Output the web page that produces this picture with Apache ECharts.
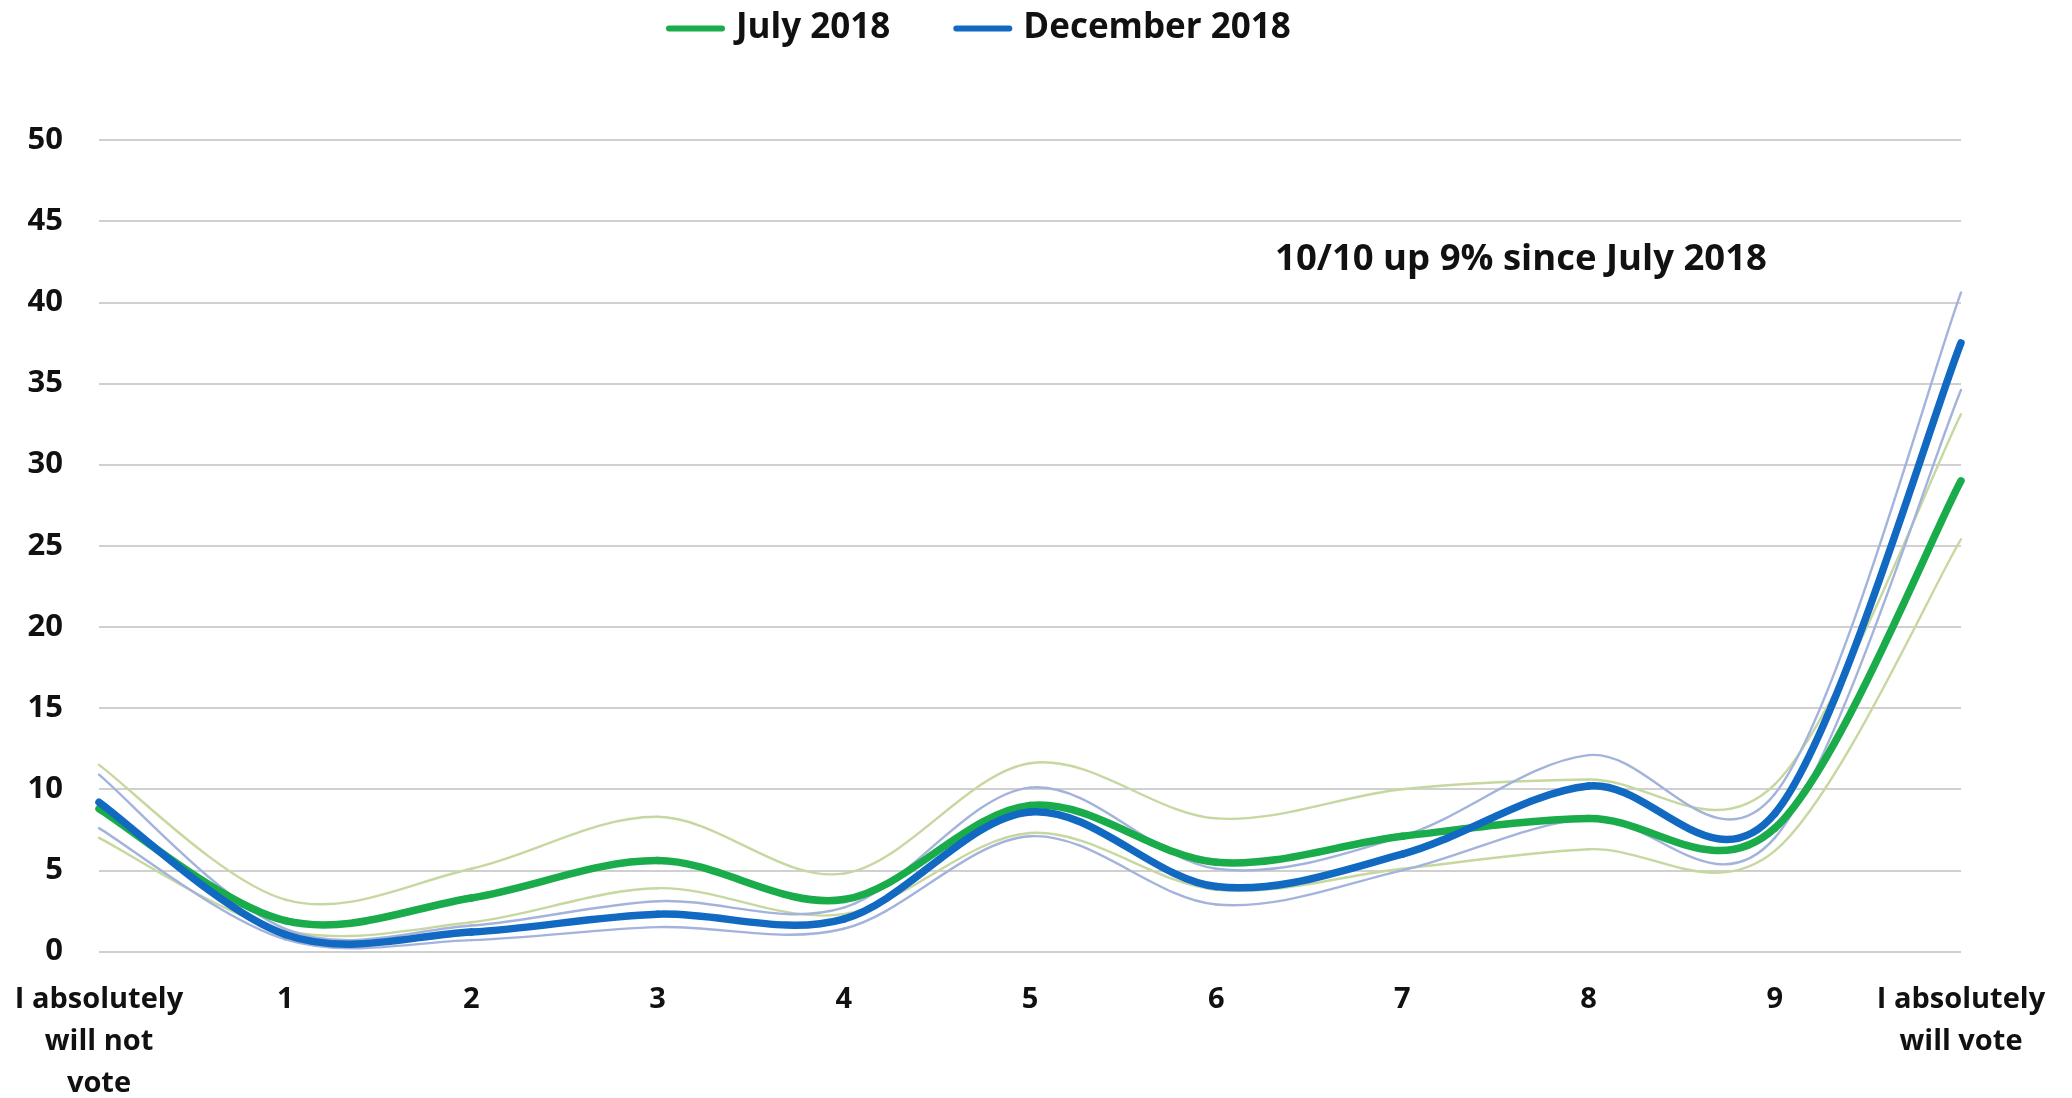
<!DOCTYPE html>
<html>
<head>
<meta charset="utf-8">
<script src="https://cdn.jsdelivr.net/npm/echarts@6/dist/echarts.min.js"></script>
<style>
html,body{margin:0;padding:0;background:#fff;}
#chart{width:2072px;height:1098px;}
</style>
</head>
<body>
<div id="chart"></div>
<script>
// ---- data ----
const categories = ['I absolutely\nwill not\nvote', '1', '2', '3', '4', '5', '6', '7', '8', '9', 'I absolutely\nwill vote'];
const yMin = 0;
const yMax = 50;
const yStep = 5;

const july2018      = [8.8, 1.9, 3.3, 5.6, 3.2, 9.0, 5.5, 7.1, 8.2, 7.6, 29.0];
const july2018Upper = [11.5, 3.2, 5.1, 8.3, 4.8, 11.6, 8.2, 10.0, 10.6, 10.3, 33.1];
const july2018Lower = [7.0, 1.3, 1.8, 3.9, 2.3, 7.3, 3.8, 5.1, 6.3, 6.2, 25.4];

const dec2018       = [9.2, 1.05, 1.2, 2.3, 2.0, 8.6, 4.0, 6.0, 10.2, 8.5, 37.5];
const dec2018Upper  = [10.9, 1.4, 1.6, 3.1, 2.7, 10.1, 5.1, 7.1, 12.1, 9.7, 40.6];
const dec2018Lower  = [7.6, 0.75, 0.7, 1.5, 1.4, 7.1, 2.9, 5.0, 8.2, 7.0, 34.6];

const legendNames = ['July 2018', 'December 2018'];
const annotationText = '10/10 up 9% since July 2018';

// ---- styling ----
const FONT = 'Open Sans';
const GREEN = '#1aab4b';
const BLUE = '#1169c1';
const LIGHT_GREEN = '#c6d79f';
const LIGHT_BLUE = '#a3b3dc';

// Smooth line drawn segment by segment (cardinal/Catmull-Rom Bezier) through axis coordinates
function smoothSeries(name, values, color, width, z) {
  const n = values.length;
  return {
    name: name,
    type: 'custom',
    coordinateSystem: 'cartesian2d',
    z: z,
    silent: true,
    clip: false,
    data: values.map(function (v, i) { return [i, v]; }),
    encode: { x: 0, y: 1 },
    itemStyle: { color: color },
    renderItem: function (params, api) {
      const i = params.dataIndex;
      if (i >= n - 1) return null;
      const P = function (k) {
        const kk = Math.max(0, Math.min(n - 1, k));
        return api.coord([kk, values[kk]]);
      };
      const p0 = P(i - 1), p1 = P(i), p2 = P(i + 1), p3 = P(i + 2);
      const t = 1 / 6;
      return {
        type: 'bezierCurve',
        shape: {
          x1: p1[0], y1: p1[1],
          x2: p2[0], y2: p2[1],
          cpx1: p1[0] + (p2[0] - p0[0]) * t,
          cpy1: p1[1] + (p2[1] - p0[1]) * t,
          cpx2: p2[0] - (p3[0] - p1[0]) * t,
          cpy2: p2[1] - (p3[1] - p1[1]) * t
        },
        style: { stroke: color, lineWidth: width, fill: null, lineCap: 'round' }
      };
    }
  };
}

const chart = echarts.init(document.getElementById('chart'), null, { renderer: 'canvas' });

chart.setOption({
  backgroundColor: '#ffffff',
  animation: false,
  legend: {
    data: legendNames,
    left: 661,
    top: 6,
    icon: 'path://M3,0H57A3,3,0,0,1,57,6H3A3,3,0,0,1,3,0Z',
    itemWidth: 59,
    itemHeight: 7,
    itemGap: 63,
    textStyle: {
      fontFamily: FONT,
      fontWeight: 'bold',
      fontSize: 35,
      color: '#111',
      padding: [0, 0, 0, 6]
    }
  },
  grid: {
    left: 99,
    right: 111,
    top: 140,
    bottom: 146.5,
    outerBoundsMode: 'none'
  },
  xAxis: {
    type: 'category',
    data: categories,
    boundaryGap: false,
    axisLine: { show: false },
    axisTick: { show: false },
    splitLine: { show: false },
    axisLabel: {
      interval: 0,
      margin: 27,
      fontFamily: FONT,
      fontWeight: 'bold',
      fontSize: 29,
      lineHeight: 42,
      color: '#111',
      align: 'center'
    }
  },
  yAxis: {
    type: 'value',
    min: yMin,
    max: yMax,
    interval: yStep,
    axisLine: { show: false },
    axisTick: { show: false },
    splitLine: { show: true, lineStyle: { color: '#d0d0d0', width: 2 } },
    axisLabel: {
      margin: 36,
      fontFamily: FONT,
      fontWeight: 'bold',
      fontSize: 31,
      color: '#111'
    }
  },
  graphic: [{
    type: 'text',
    x: 1521,
    y: 260,
    style: {
      text: annotationText,
      font: 'bold 36.5px "Open Sans"',
      fill: '#111',
      align: 'center',
      verticalAlign: 'middle'
    }
  }],
  series: [
    smoothSeries('July 2018 upper', july2018Upper, LIGHT_GREEN, 2.4, 1),
    smoothSeries('July 2018 lower', july2018Lower, LIGHT_GREEN, 2.4, 1),
    smoothSeries('December 2018 upper', dec2018Upper, LIGHT_BLUE, 2.4, 2),
    smoothSeries('December 2018 lower', dec2018Lower, LIGHT_BLUE, 2.4, 2),
    smoothSeries('July 2018', july2018, GREEN, 7.5, 3),
    smoothSeries('December 2018', dec2018, BLUE, 7.5, 4)
  ]
});
</script>
</body>
</html>
